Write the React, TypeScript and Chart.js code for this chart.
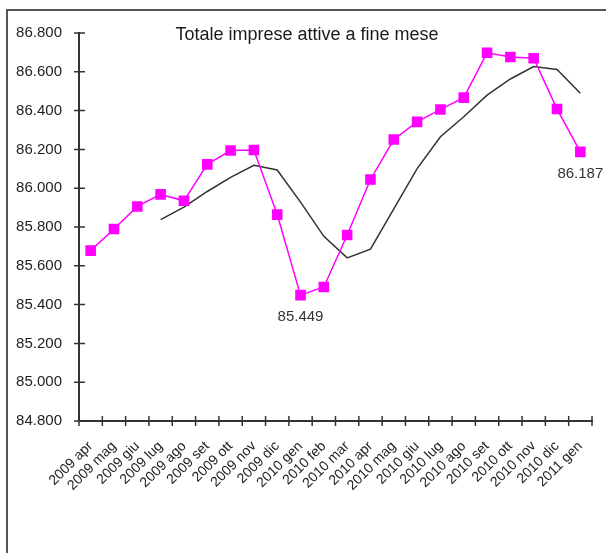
import React, { useEffect, useRef } from "react";
import { Chart, registerables } from "chart.js";

Chart.register(...registerables);

const months = [
  "2009 apr", "2009 mag", "2009 giu", "2009 lug", "2009 ago", "2009 set",
  "2009 ott", "2009 nov", "2009 dic", "2010 gen", "2010 feb", "2010 mar",
  "2010 apr", "2010 mag", "2010 giu", "2010 lug", "2010 ago", "2010 set",
  "2010 ott", "2010 nov", "2010 dic", "2011 gen",
];

// Totale imprese attive (migliaia)
const totale = [
  85.678, 85.79, 85.906, 85.968, 85.935, 86.123, 86.194, 86.197, 85.864,
  85.449, 85.491, 85.759, 86.045, 86.251, 86.342, 86.406, 86.467, 86.698,
  86.676, 86.67, 86.408, 86.187,
];

// Media mobile
const media = [
  null, null, null, 85.838, 85.902, 85.983, 86.056, 86.118, 86.094, 85.928,
  85.752, 85.641, 85.686, 85.894, 86.101, 86.265, 86.368, 86.48, 86.563,
  86.627, 86.612, 86.489,
];

const labelledPoints = [9, 21];

const yMin = 84.8;
const yMax = 86.8;
const yStep = 0.2;

const titleText = "Totale imprese attive a fine mese";

const FONT = "'Liberation Sans', Arial, sans-serif";

export default function App() {
  const ref = useRef<HTMLCanvasElement | null>(null);

  useEffect(() => {
    if (!ref.current) return;

    const framePlugin = {
      id: "frame",
      beforeDraw(chart: any) {
        const ctx = chart.ctx;
        ctx.save();
        ctx.fillStyle = "#ffffff";
        ctx.fillRect(0, 0, chart.width, chart.height);
        ctx.strokeStyle = "#555555";
        ctx.lineWidth = 2;
        ctx.strokeRect(7, 10, 800, 800);
        ctx.restore();
      },
    };

    const crossTicks = {
      id: "crossTicks",
      afterDraw(chart: any) {
        const ctx = chart.ctx;
        const xs = chart.scales.x;
        const ys = chart.scales.y;
        const area = chart.chartArea;
        ctx.save();
        ctx.strokeStyle = "#333333";
        ctx.lineWidth = 1.5;
        ctx.beginPath();
        for (let i = 0; i <= months.length; i++) {
          const px = xs.getPixelForValue(i - 0.5);
          ctx.moveTo(px, area.bottom - 5);
          ctx.lineTo(px, area.bottom + 5);
        }
        ys.ticks.forEach((t: any) => {
          const py = ys.getPixelForValue(t.value);
          ctx.moveTo(area.left - 5, py);
          ctx.lineTo(area.left + 6, py);
        });
        ctx.stroke();

        // title
        ctx.fillStyle = "#1a1a1a";
        ctx.font = `18px ${FONT}`;
        ctx.textAlign = "center";
        ctx.textBaseline = "alphabetic";
        ctx.fillText(titleText, 307, 40);

        // data labels
        const meta = chart.getDatasetMeta(0);
        ctx.font = `15px ${FONT}`;
        ctx.fillStyle = "#333333";
        ctx.textBaseline = "middle";
        labelledPoints.forEach((i) => {
          const el = meta.data[i];
          ctx.fillText(totale[i].toFixed(3), el.x, el.y + 22);
        });
        ctx.restore();
      },
    };

    const chart = new Chart(ref.current, {
      type: "line",
      data: {
        labels: months,
        datasets: [
          {
            label: "Totale",
            data: totale,
            borderColor: "#ff00ff",
            backgroundColor: "#ff00ff",
            borderWidth: 1.5,
            pointStyle: "rect",
            pointRadius: 7.5,
            pointBorderWidth: 0,
            tension: 0,
          },
          {
            label: "Media",
            data: media,
            borderColor: "#333333",
            borderWidth: 1.5,
            pointRadius: 0,
            tension: 0,
          },
        ],
      },
      options: {
        responsive: false,
        animation: false,
        layout: { padding: { left: 0, right: 14, top: 33, bottom: 0 } },
        plugins: {
          legend: { display: false },
          title: { display: false },
          tooltip: { enabled: false },
        },
        scales: {
          x: {
            offset: true,
            grid: { display: false },
            border: { display: true, color: "#333333", width: 2 },
            ticks: {
              color: "#222222",
              font: { family: FONT, size: 14 },
              maxRotation: 45,
              minRotation: 45,
              autoSkip: false,
              padding: 9,
            },
            afterFit(s: any) {
              s.height = 132;
            },
          },
          y: {
            min: yMin,
            max: yMax,
            grid: { display: false },
            border: { display: true, color: "#333333", width: 2 },
            ticks: {
              stepSize: yStep,
              color: "#222222",
              font: { family: FONT, size: 15 },
              padding: 9,
              callback: (v: any) => Number(v).toFixed(3),
            },
            afterFit(s: any) {
              s.width = 79;
            },
          },
        },
      },
      plugins: [framePlugin, crossTicks],
    });

    return () => chart.destroy();
  }, []);

  return (
    <canvas
      ref={ref}
      width={606}
      height={553}
      style={{ position: "fixed", left: 0, top: 0, display: "block" }}
    />
  );
}
